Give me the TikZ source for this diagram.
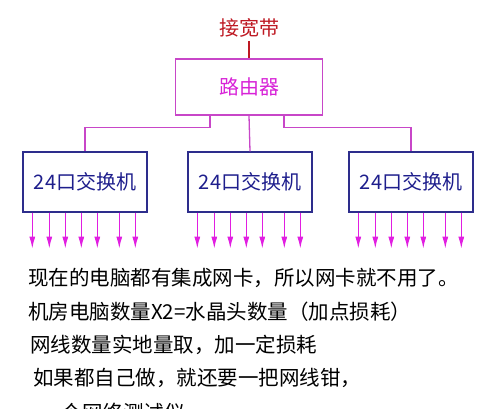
\documentclass[tikz,border=0pt]{standalone}
\usepackage{fontspec}
\setmainfont{Noto Sans CJK SC}
\usetikzlibrary{positioning, arrows.meta}

\definecolor{bandred}{RGB}{190,25,35}
\definecolor{routerpurple}{RGB}{200,70,200}
\definecolor{routertext}{RGB}{215,35,215}
\definecolor{switchblue}{RGB}{45,45,140}
\definecolor{switchtext}{RGB}{30,30,140}
\definecolor{portmagenta}{RGB}{225,30,225}

\begin{document}
\begin{tikzpicture}[>={Latex[length=12pt,width=6pt]}, x=1pt, y=-1pt,
    cjk/.style={font=\fontsize{20}{24}\selectfont},
    routerbox/.style={cjk, draw=routerpurple, line width=1.4pt, text=routertext, minimum width=147pt, minimum height=56pt, inner sep=0pt},
    switchbox/.style={cjk, draw=switchblue, line width=1.4pt, text=switchtext, minimum width=124pt, minimum height=60pt, inner sep=0pt},
    link/.style={draw=routerpurple, line width=1.3pt},
    port/.style={->, draw=portmagenta, fill=portmagenta, line width=1.3pt},
    note/.style={font=\fontsize{20.5}{24}\selectfont, anchor=west, inner sep=0pt}]

    \useasboundingbox (0,0) rectangle (500,408);

    \node[cjk, text=bandred] (band) at (249,28) {接宽带};
    \node[routerbox] (router) at (249,87) {路由器};

    \node[switchbox] (sw1) at (85,182) {24口交换机};
    \node[switchbox] (sw2) at (250,182) {24口交换机};
    \node[switchbox] (sw3) at (411,182) {24口交换机};

    \draw[draw=bandred, line width=1.3pt] (band) -- (router);
    \draw[link] ([xshift=-39pt] router.south) -- ++(0,12) -| (sw1.north);
    \draw[link] (router.south) -- (sw2.north);
    \draw[link] ([xshift=35pt] router.south) -- ++(0,12) -| (sw3.north);

    % ports
    \foreach \sw in {sw1, sw2, sw3}
        \foreach \dx in {10, 27, 43, 59, 75, 97, 113}
            \draw[port] ([xshift=\dx pt] \sw.south west) -- ++(0,36);

    \node[note] (line1) at (28,278) {现在的电脑都有集成网卡，所以网卡就不用了。};
    \node[note] (line2) at (28,312) {机房电脑数量X2=水晶头数量（加点损耗）};
    \node[note] (line3) at (30,345) {网线数量实地量取，加一定损耗};
    \node[note] (line4) at (33,378) {如果都自己做，就还要一把网线钳，};
    \node[note] (line5) at (41,413) {一个网络测试仪};

\end{tikzpicture}
\end{document}
